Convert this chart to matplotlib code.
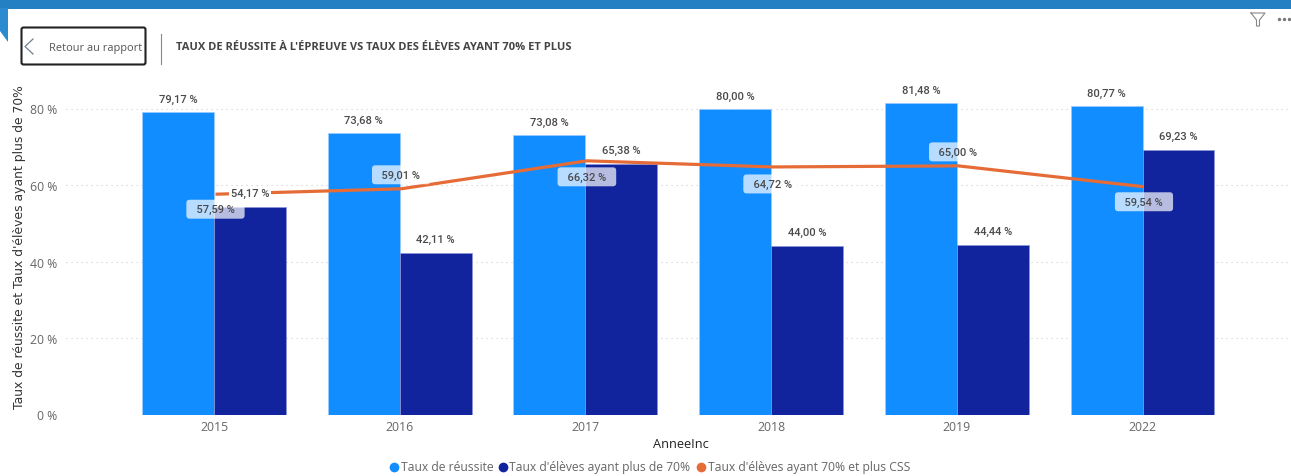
import matplotlib
matplotlib.use("Agg")
import matplotlib.pyplot as plt
from matplotlib.patches import FancyBboxPatch, Polygon, Rectangle
from matplotlib.ticker import FuncFormatter

W, H = 1291, 477

annees = ["2015", "2016", "2017", "2018", "2019", "2022"]
taux_reussite = [79.17, 73.68, 73.08, 80.00, 81.48, 80.77]
taux_70 = [54.17, 42.11, 65.38, 44.00, 44.44, 69.23]
taux_70_css = [57.59, 59.01, 66.32, 64.72, 65.00, 59.54]
# position of each CSS label relative to its point (px)
css_label_dy = [-15, 14, -16, -17, 14, -15]

BLUE = "#118DFF"
NAVY = "#12239E"
ORANGE = "#E66C37"
TEXT = "#4A4A4A"

plt.rcParams["font.family"] = "Open Sans"


def fr(v):
    return f"{v:.2f}".replace(".", ",") + " %"


fig = plt.figure(figsize=(W / 100, H / 100), dpi=100)

# page decoration, in pixel coordinates
bg = fig.add_axes([0, 0, 1, 1])
bg.set_xlim(0, W)
bg.set_ylim(H, 0)
bg.axis("off")
bg.add_patch(Rectangle((0, 0), W, 9.5, color="#2580C3", lw=0))
bg.add_patch(Polygon([(0, 9), (8, 9), (8, 43), (0, 32)], color="#2B8AD0", lw=0))
bg.add_patch(FancyBboxPatch((21.5, 28.5), 124, 37, boxstyle="round,pad=0,rounding_size=2",
                            fc="white", ec="#222222", lw=1.5))
bg.plot([33, 25, 33], [40, 47.5, 55], color="#6F7F8F", lw=0.9)
bg.text(49, 48.5, "Retour au rapport", fontsize=7.9, color="#555555", va="center")
bg.plot([160.5, 160.5], [35, 65], color="#888888", lw=0.8)
bg.text(176, 48, "TAUX DE RÉUSSITE À L'ÉPREUVE VS TAUX DES ÉLÈVES AYANT 70% ET PLUS",
        fontsize=8, fontweight="bold", color="#444444", va="center")
bg.plot([1251, 1265, 1259.5, 1259.5, 1256.5, 1256.5, 1251],
        [14, 14, 21, 27, 27, 21, 14], color="#888888", lw=0.8)
bg.plot([1279, 1284, 1289], [20, 20, 20], ls="none", marker="o", ms=1.4, color="#777777")

# chart area: 0 % at y=415 px, 80 % at y=109 px, first group at x=214 px
left, right, bottom, top = 66, 1291, 415.5, 85
ax = fig.add_axes([left / W, 1 - bottom / H, (right - left) / W, (bottom - top) / H])
ax.patch.set_alpha(0)
step = 185.7
ax.set_xlim((left - 214) / step, (right - 214) / step)
ax.set_ylim(0, (bottom - top) / 3.825)

x = list(range(len(annees)))
w = 0.3875
ax.bar([i - w / 2 for i in x], taux_reussite, w, color=BLUE, ec="#9CCBFF", lw=0.5, zorder=2)
ax.bar([i + w / 2 for i in x], taux_70, w, color=NAVY, ec="#8C96D8", lw=0.5, zorder=2)
ax.plot([i + 0.008 for i in x], taux_70_css, color=ORANGE, lw=2.3, zorder=3, solid_capstyle="butt")

label_font = dict(family="Roboto", fontsize=8, fontweight="medium", color=TEXT)
for i, v in zip(x, taux_reussite):
    ax.annotate(fr(v), (i - w / 2, v), xytext=(0, 13), textcoords="offset pixels",
                ha="center", va="center", zorder=5, **label_font)
for i, v in zip(x, taux_70):
    ax.annotate(fr(v), (i + w / 2, v), xytext=(0, 14), textcoords="offset pixels",
                ha="center", va="center", zorder=5, **label_font,
                bbox=dict(fc="white", ec="none", pad=1.2))
for i, v, dy in zip(x, taux_70_css, css_label_dy):
    ax.annotate("  " + fr(v) + "  ", (i + 0.008, v), xytext=(0, dy), textcoords="offset pixels",
                ha="center", va="center", zorder=6, **label_font,
                bbox=dict(boxstyle="round,pad=0.4,rounding_size=0.3", fc="white", ec="none", alpha=0.7))

ax.set_xticks(x, annees)
ax.set_yticks([0, 20, 40, 60, 80])
ax.yaxis.set_major_formatter(FuncFormatter(lambda v, _: f"{v:.0f} %"))
ax.tick_params(length=0, labelsize=8.8, labelcolor="#666666")
ax.tick_params(axis="x", pad=4)
ax.tick_params(axis="y", pad=6)
ax.grid(axis="y", color="#CFCFCF", ls=(0, (1, 3.5)), lw=0.8, zorder=0)
ax.set_axisbelow(True)
for s in ax.spines.values():
    s.set_visible(False)

bg.text(681, 445, "AnneeInc", fontsize=9.2, color="#222222", ha="center", va="center")
bg.text(20, 247, "Taux de réussite et Taux d'élèves ayant plus de 70%", rotation=90,
        fontsize=8.95, color="#333333", ha="center", va="center", family="DejaVu Sans")

# legend
legend_items = [("Taux de réussite", BLUE, 394, 401),
                ("Taux d'élèves ayant plus de 70%", NAVY, 503, 509),
                ("Taux d'élèves ayant 70% et plus CSS", ORANGE, 701, 708)]
for label, col, mx, tx in legend_items:
    bg.plot(mx, 467.5, marker="o", ms=7, color=col, mew=0)
    bg.text(tx, 467.5, label, fontsize=8.72, color="#666666", va="center")

fig.savefig("out.png", dpi=100)
